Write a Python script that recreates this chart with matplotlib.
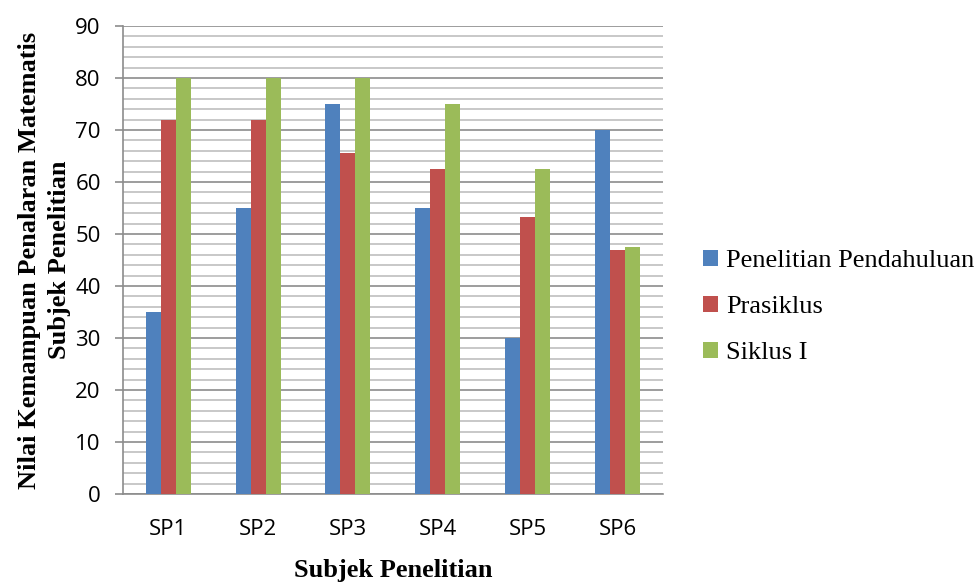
import numpy as np
import matplotlib.pyplot as plt
from matplotlib.ticker import MultipleLocator

labels = ['SP1', 'SP2', 'SP3', 'SP4', 'SP5', 'SP6']
pendahuluan = [35, 55, 75, 55, 30, 70]
prasiklus = [72, 72, 65.6, 62.5, 53.3, 47]
siklus1 = [80, 80, 80, 75, 62.5, 47.5]

colors = ['#4F81BD', '#C0504D', '#9BBB59']
series = ['Penelitian Pendahuluan', 'Prasiklus', 'Siklus I']

fig = plt.figure(figsize=(9.77, 5.82), dpi=100)
ax = fig.add_axes([0.1259, 0.1512, 0.5527, 0.8041])

x = np.arange(len(labels))
width = 0.5 / 3
for i, (vals, name) in enumerate(zip([pendahuluan, prasiklus, siklus1], series)):
    ax.bar(x + (i - 1) * width, vals, width=width, color=colors[i], label=name,
           zorder=3)

ax.set_xlim(-0.5, len(labels) - 0.5)
ax.set_ylim(0, 90)
ax.yaxis.set_major_locator(MultipleLocator(10))
ax.yaxis.set_minor_locator(MultipleLocator(2))
ax.grid(axis='y', which='major', color='#8c8c8c', linewidth=1.2, zorder=0)
ax.grid(axis='y', which='minor', color='#bfbfbf', linewidth=1.2, zorder=0)

for s in ['top', 'right']:
    ax.spines[s].set_visible(False)
for s in ['left', 'bottom']:
    ax.spines[s].set_color('#8c8c8c')
    ax.spines[s].set_linewidth(1.2)

ax.set_xticks(x)
ax.set_xticklabels(labels)
ax.tick_params(axis='x', length=0, pad=18, labelsize=16)
ax.tick_params(axis='y', which='major', length=6, color='#8c8c8c', width=1.2,
               labelsize=16, pad=10)
ax.tick_params(axis='y', which='minor', length=0)
for t in ax.get_xticklabels() + ax.get_yticklabels():
    t.set_fontfamily('Open Sans')

ax.set_xlabel('Subjek Penelitian', fontfamily='Liberation Serif',
              fontweight='bold', fontsize=19, labelpad=14)
ax.set_ylabel('Nilai Kemampuan Penalaran Matematis\nSubjek Penelitian',
              fontfamily='Liberation Serif', fontweight='bold', fontsize=19,
              labelpad=3, linespacing=1.4)

ax.legend(loc='center left', bbox_to_anchor=(1.075, 0.40), frameon=False,
          prop={'family': 'Liberation Serif', 'size': 19},
          handlelength=0.55, handleheight=0.55, handletextpad=0.3,
          labelspacing=0.9, borderpad=0, borderaxespad=0)

fig.savefig('out.png', dpi=100)
